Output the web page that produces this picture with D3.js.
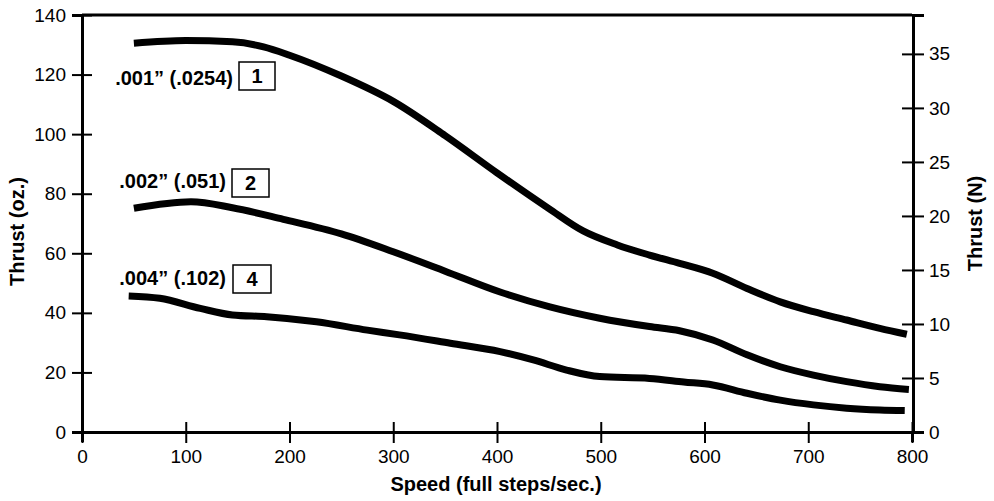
<!DOCTYPE html>
<html>
<head>
<meta charset="utf-8">
<script src="https://cdn.jsdelivr.net/npm/d3@7"></script>
<style>
  html, body { margin: 0; padding: 0; background: #fff; }
  svg { display: block; font-family: "Liberation Sans", Arial, Helvetica, sans-serif; }
</style>
</head>
<body>
<svg id="chart" width="994" height="501"></svg>
<script>
// Thrust vs. speed for three lead-screw step sizes
const stepLabels = ['.001\u201D (.0254)', '.002\u201D (.051)', '.004\u201D (.102)'];
const stepIds = ['1', '2', '4'];

// speed (full steps/sec) and thrust (oz.) for each curve
const speed1 = [50, 100, 145, 175, 200, 250, 300, 350, 400, 450, 483, 516, 547, 576, 608, 641, 673, 705, 737, 769, 795];
const thrust1 = [130.5, 131.4, 131, 129.3, 126.5, 119.5, 111, 99.5, 87, 75, 67.5, 62.8, 59.4, 56.6, 53.3, 48.2, 43.7, 40.4, 37.6, 34.8, 32.8];

const speed2 = [50, 105, 145, 194, 250, 300, 350, 403, 451, 499, 547, 576, 608, 641, 673, 705, 737, 769, 797];
const thrust2 = [75.1, 77.3, 75.3, 71.4, 66.5, 60.5, 54, 47, 42, 38.2, 35.4, 34, 30.9, 25.9, 21.9, 19.1, 16.9, 15.2, 14.3];

const speed3 = [45, 75, 114, 145, 178, 226, 275, 306, 355, 403, 435, 467, 499, 547, 580, 608, 641, 673, 705, 737, 769, 793];
const thrust3 = [45.7, 44.9, 41.5, 39.3, 38.7, 37, 34.2, 32.6, 29.8, 27, 24.2, 20.8, 18.6, 18, 16.8, 15.8, 13, 10.7, 9.1, 8, 7.4, 7.2];

const xTicks = [0, 100, 200, 300, 400, 500, 600, 700, 800];
const yTicksOz = [0, 20, 40, 60, 80, 100, 120, 140];
const yTicksN = [0, 5, 10, 15, 20, 25, 30, 35];
const xTitle = 'Speed (full steps/sec.)';
const yTitleLeft = 'Thrust (oz.)';
const yTitleRight = 'Thrust (N)';

const series = [
  { speed: speed1, thrust: thrust1 },
  { speed: speed2, thrust: thrust2 },
  { speed: speed3, thrust: thrust3 }
];

// plot frame
const L = 82, R = 912, T = 15, B = 432;
const svg = d3.select('#chart');

const x = d3.scaleLinear().domain([0, 800]).range([L, R]);
const yOz = d3.scaleLinear().domain([0, 140]).range([B, T]);
const yN = d3.scaleLinear().domain([0, 38.6]).range([B, T]);

// top border of the frame
svg.append('line')
  .attr('x1', L).attr('x2', R).attr('y1', T).attr('y2', T)
  .attr('stroke', '#000').attr('stroke-width', 3);

function styleAxis(g) {
  g.select('.domain').attr('stroke', '#000').attr('stroke-width', 3);
  g.selectAll('.tick line').attr('stroke', '#000').attr('stroke-width', 2);
  g.selectAll('.tick text')
    .attr('fill', '#000')
    .style('font-size', '19px')
    .style('font-family', '"Liberation Sans", Arial, sans-serif');
}

// left axis (oz.)
const gL = svg.append('g').attr('transform', `translate(${L},0)`)
  .call(d3.axisLeft(yOz).tickValues(yTicksOz).tickSizeOuter(0).tickSize(10));
styleAxis(gL);
gL.selectAll('.tick line').attr('x1', 10).attr('x2', -10);
gL.selectAll('.tick text').attr('x', -16);

// right axis (N)
const gR = svg.append('g').attr('transform', `translate(${R + 1},0)`)
  .call(d3.axisRight(yN).tickValues(yTicksN).tickSizeOuter(0).tickSize(11));
styleAxis(gR);
gR.selectAll('.tick line').attr('x1', -11).attr('x2', 11);
gR.selectAll('.tick text').attr('x', 16);

// bottom axis (speed)
const gB = svg.append('g').attr('transform', `translate(0,${B})`)
  .call(d3.axisBottom(x).tickValues(xTicks).tickSizeOuter(0).tickSize(10));
styleAxis(gB);
gB.selectAll('.tick line').attr('y1', -10).attr('y2', 11);
gB.selectAll('.tick text').attr('y', 18);

// axis titles
svg.append('text')
  .attr('transform', `translate(24,${(T + B) / 2 + 8}) rotate(-90)`)
  .attr('text-anchor', 'middle')
  .style('font-size', '20px').style('font-weight', 'bold')
  .text(yTitleLeft);

svg.append('text')
  .attr('transform', `translate(982,${(T + B) / 2}) rotate(-90)`)
  .attr('text-anchor', 'middle')
  .style('font-size', '20px').style('font-weight', 'bold')
  .text(yTitleRight);

svg.append('text')
  .attr('x', 496).attr('y', 491)
  .attr('text-anchor', 'middle')
  .style('font-size', '20px').style('font-weight', 'bold')
  .text(xTitle);

// curves
const line = d3.line()
  .x(d => x(d[0]))
  .y(d => yOz(d[1]))
  .curve(d3.curveMonotoneX);

series.forEach(s => {
  const pts = s.speed.map((v, i) => [v, s.thrust[i]]);
  svg.append('path')
    .attr('d', line(pts))
    .attr('fill', 'none')
    .attr('stroke', '#000')
    .attr('stroke-width', 7)
    .attr('stroke-linecap', 'butt');
});

// curve labels: text followed by a boxed step id
const labelPos = [
  { textRight: 233, baseline: 85, boxX: 239, boxY: 62, boxW: 36, boxH: 28 },
  { textRight: 226, baseline: 188, boxX: 232, boxY: 169, boxW: 37, boxH: 28 },
  { textRight: 226, baseline: 285, boxX: 233, boxY: 265, boxW: 38, boxH: 28 }
];

labelPos.forEach((p, i) => {
  svg.append('text')
    .attr('x', p.textRight).attr('y', p.baseline)
    .attr('text-anchor', 'end')
    .style('font-size', '20px').style('font-weight', 'bold')
    .text(stepLabels[i]);
  svg.append('rect')
    .attr('x', p.boxX).attr('y', p.boxY)
    .attr('width', p.boxW).attr('height', p.boxH)
    .attr('fill', 'none').attr('stroke', '#000').attr('stroke-width', 1.5);
  svg.append('text')
    .attr('x', p.boxX + p.boxW / 2).attr('y', p.boxY + p.boxH / 2 + 7)
    .attr('text-anchor', 'middle')
    .style('font-size', '20px').style('font-weight', 'bold')
    .text(stepIds[i]);
});
</script>
</body>
</html>
